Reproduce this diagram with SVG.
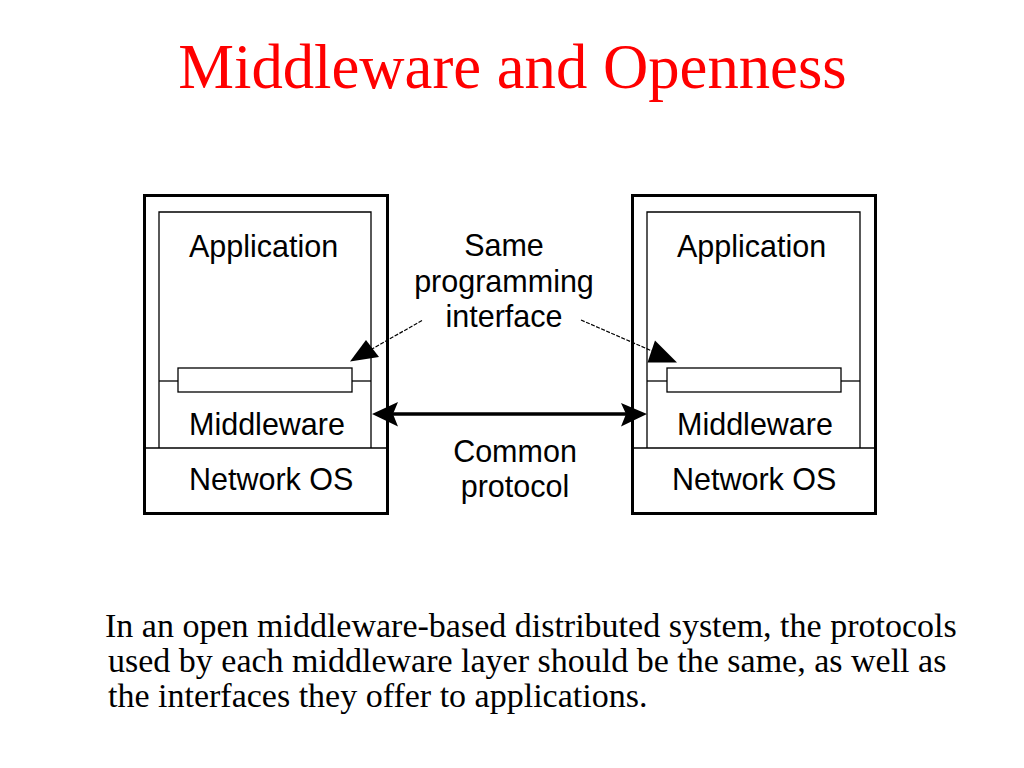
<svg xmlns="http://www.w3.org/2000/svg" width="1024" height="768" viewBox="0 0 1024 768">
<style>
.outer{fill:none;stroke:#000;stroke-width:3}
.thin{fill:none;stroke:#000;stroke-width:1.3}
.bar{fill:#fff;stroke:#000;stroke-width:1.3}
.lbl{font-family:"Liberation Sans",Arial,sans-serif;font-size:30.5px;fill:#000}
.mid{font-family:"Liberation Sans",Arial,sans-serif;font-size:30.5px;fill:#000;text-anchor:middle}
.title{font-family:"Liberation Serif","Times New Roman",serif;font-size:62.7px;fill:#ff0000;text-anchor:middle}
.body{font-family:"Liberation Serif","Times New Roman",serif;font-size:34px;fill:#000}
.dash{fill:none;stroke:#000;stroke-width:1.2;stroke-dasharray:4 1.5}
.head{fill:#000}
</style>
<rect width="1024" height="768" fill="#fff"/>
<text class="title" x="512.5" y="88">Middleware and Openness</text>

<g id="left-host">
<rect class="outer" x="144.5" y="195.5" width="243" height="318"/>
<polyline class="thin" points="159,448 159,212 371,212 371,448"/>
<line class="thin" x1="144.5" y1="448" x2="387.5" y2="448"/>
<line class="thin" x1="159" y1="381" x2="178" y2="381"/>
<line class="thin" x1="352" y1="381" x2="371" y2="381"/>
<rect class="bar" x="178" y="368" width="174" height="24"/>
<text class="lbl" x="189" y="257">Application</text>
<text class="lbl" x="189" y="435">Middleware</text>
<text class="lbl" x="189" y="490">Network OS</text>
</g>

<g id="right-host">
<rect class="outer" x="632.5" y="195.5" width="243" height="318"/>
<polyline class="thin" points="647,448 647,212 860,212 860,448"/>
<line class="thin" x1="632.5" y1="448" x2="875.5" y2="448"/>
<line class="thin" x1="647" y1="381" x2="667" y2="381"/>
<line class="thin" x1="841" y1="381" x2="860" y2="381"/>
<rect class="bar" x="667" y="368" width="174" height="24"/>
<text class="lbl" x="677" y="257">Application</text>
<text class="lbl" x="677" y="435">Middleware</text>
<text class="lbl" x="672" y="490">Network OS</text>
</g>

<g id="labels">
<text class="mid" x="504" y="256">Same</text>
<text class="mid" x="504" y="292">programming</text>
<text class="mid" x="504" y="327">interface</text>
<text class="mid" x="515" y="462">Common</text>
<text class="mid" x="515" y="497">protocol</text>
</g>

<g id="connectors">
<line class="dash" x1="422" y1="320.5" x2="372" y2="349"/>
<polygon class="head" points="350,361.5 366,340 379,357"/>
<line class="dash" x1="581" y1="320" x2="652" y2="351"/>
<polygon class="head" points="677,362.5 655,340.5 647.5,362.5"/>
<line x1="392" y1="414" x2="628" y2="414" stroke="#000" stroke-width="3.5"/>
<polygon class="head" points="372,414 398,402 393,414 398,426.5"/>
<polygon class="head" points="647,414 621,403 626,414 621,426.5"/>
</g>

<g id="caption">
<text class="body" x="105" y="637">In an open middleware-based distributed system, the protocols</text>
<text class="body" x="108" y="672">used by each middleware layer should be the same, as well as</text>
<text class="body" x="108" y="707">the interfaces they offer to applications.</text>
</g>
</svg>
